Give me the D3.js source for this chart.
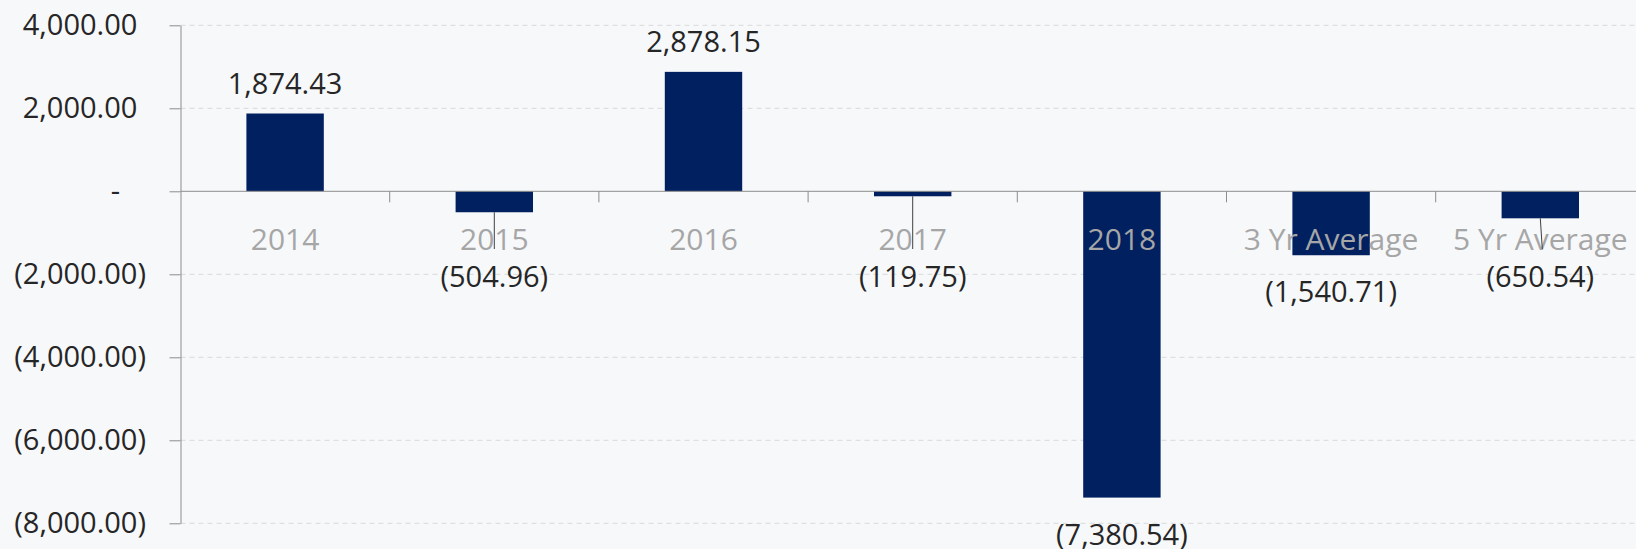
<!doctype html>
<html>
<head>
<meta charset="utf-8">
<title>Annual values</title>
<style>
  html, body { margin: 0; padding: 0; background: #f7f8fa; }
  svg { display: block; font-family: "Open Sans", "Noto Sans", sans-serif; }
</style>
</head>
<body>
<div id="chart"></div>
<script src="https://d3js.org/d3.v7.min.js"></script>
<script>
var categories = ["2014", "2015", "2016", "2017", "2018", "3 Yr Average", "5 Yr Average"];
var values = [1874.43, -504.96, 2878.15, -119.75, -7380.54, -1540.71, -650.54];
var yTicks = [4000, 2000, 0, -2000, -4000, -6000, -8000];

var W = 1636, H = 549;
var left = 180.5, step = 209.2;

var svg = d3.select("#chart").append("svg")
    .attr("width", W).attr("height", H);

svg.append("rect").attr("width", W).attr("height", H).attr("fill", "#f7f8fa");

var x = d3.scaleBand()
    .domain(categories)
    .range([left, left + categories.length * step])
    .paddingInner(0.63)
    .paddingOuter(0.315);

var y = d3.scaleLinear().domain([-8000, 4000]).range([523.3, 25.3]);

// accounting style numbers
var num = d3.format(",.2f");
function acct(v) {
  if (v === 0) return "-";
  return v < 0 ? "(" + num(-v) + ")" : num(v);
}

// dashed gridlines
svg.append("g").selectAll("line")
  .data(yTicks.filter(function(d) { return d !== 0; }))
  .enter().append("line")
    .attr("x1", left).attr("x2", W)
    .attr("y1", function(d) { return y(d); })
    .attr("y2", function(d) { return y(d); })
    .attr("stroke", "#d9d9d9")
    .attr("stroke-width", 1)
    .attr("stroke-dasharray", "5,4");

// bars
svg.append("g").selectAll("rect")
  .data(values)
  .enter().append("rect")
    .attr("x", function(d, i) { return x(categories[i]); })
    .attr("width", x.bandwidth())
    .attr("y", function(d) { return y(Math.max(0, d)); })
    .attr("height", function(d) { return Math.abs(y(d) - y(0)); })
    .attr("fill", "#002060");

// y axis
var yAxis = d3.axisLeft(y)
    .tickValues(yTicks)
    .tickSize(11)
    .tickSizeOuter(0)
    .tickPadding(23.5)
    .tickFormat(acct);

var gy = svg.append("g").attr("transform", "translate(" + left + ",0)").call(yAxis);
gy.select(".domain").attr("stroke", "#8c8c8c");
gy.selectAll(".tick line").attr("stroke", "#8c8c8c");
gy.selectAll(".tick text")
    .attr("font-size", 29)
    .attr("font-family", "'Open Sans', sans-serif")
    .attr("fill", "#262626")
    .attr("dx", function(d) { return d > 0 ? -8.6 : (d === 0 ? -26 : 0); });

// category axis at zero
var y0 = y(0);
svg.append("line")
    .attr("x1", left).attr("x2", W)
    .attr("y1", y0).attr("y2", y0)
    .attr("stroke", "#8c8c8c");

svg.append("g").selectAll("line")
  .data(categories.slice(1))
  .enter().append("line")
    .attr("x1", function(d) { return x(d) - (x.step() - x.bandwidth()) / 2; })
    .attr("x2", function(d) { return x(d) - (x.step() - x.bandwidth()) / 2; })
    .attr("y1", y0).attr("y2", y0 + 11)
    .attr("stroke", "#8c8c8c");

svg.append("g").selectAll("text")
  .data(categories)
  .enter().append("text")
    .attr("x", function(d) { return x(d) + x.bandwidth() / 2; })
    .attr("y", 250)
    .attr("text-anchor", "middle")
    .attr("font-size", 30)
    .attr("fill", "#a6a6a6")
    .text(function(d) { return d; });

// data labels, negatives pushed below the category labels get a leader line
var minNegY = 287;
function labelY(v) {
  if (v >= 0) return y(v) - 19.5;
  return Math.max(y(v) + 47, minNegY);
}

var labels = svg.append("g");
values.forEach(function(v, i) {
  var cx = x(categories[i]) + x.bandwidth() / 2;
  var ly = labelY(v);
  if (v < 0 && ly > y(v) + 48) {
    labels.append("line")
      .attr("x1", cx).attr("x2", cx + (i === values.length - 1 ? 2 : 0))
      .attr("y1", y(v)).attr("y2", ly - 38)
      .attr("stroke", "#404040")
      .attr("stroke-width", 1);
  }
  labels.append("text")
    .attr("x", cx)
    .attr("y", ly)
    .attr("text-anchor", "middle")
    .attr("font-size", 29)
    .attr("fill", "#262626")
    .text(acct(v));
});
</script>
</body>
</html>
